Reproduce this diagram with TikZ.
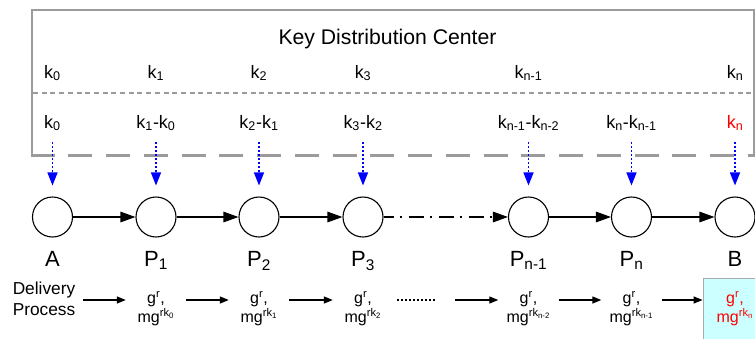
\documentclass[tikz,border=0pt]{standalone}
\usepackage{fontspec}
\setmainfont{Liberation Sans}
\usetikzlibrary{arrows.meta}

\definecolor{framegray}{RGB}{155,155,155}
\definecolor{edgegray}{RGB}{170,170,170}
\definecolor{keyblue}{RGB}{0,0,255}
\definecolor{keyred}{RGB}{255,0,0}
\definecolor{lastfill}{RGB}{204,255,255}

\begin{document}
\begin{tikzpicture}[x=1pt,y=-1pt,
  title/.style={font=\fontsize{21.2}{25}\selectfont, anchor=base, inner sep=0pt},
  keylbl/.style={font=\fontsize{18}{21}\selectfont, anchor=base, inner sep=0pt},
  peer/.style={circle, draw, line width=1.1pt, minimum size=40pt, inner sep=0pt},
  peerlbl/.style={font=\fontsize{22}{25}\selectfont, anchor=base, inner sep=0pt},
  cipher/.style={font=\fontsize{16}{19}\selectfont, align=center, inner sep=0pt, minimum width=60pt},
  hop/.style={line width=1.3pt, -{Triangle[length=15pt,width=10.5pt]}},
  feed/.style={keyblue, line width=1.4pt, dash pattern=on 2pt off 2pt,
    -{Triangle[length=13pt,width=10pt]}, shorten <=11pt, shorten >=11pt},
  pass/.style={line width=1.3pt, -{Triangle[length=9pt,width=7pt]}}
]
\useasboundingbox (0,0) rectangle (755,338);
\clip (0,0) rectangle (755,338);

% key distribution center frame
\draw[framegray, line width=2.8pt] (32,155) -- (32,10) -- (757,10);
\draw[framegray, line width=1.5pt] (754,10) -- (754,155);
\draw[framegray, line width=2pt, dash pattern=on 5pt off 3.7pt] (33,92.5) -- (755,92.5);
\draw[framegray, line width=3pt, dash pattern=on 24pt off 13.75pt] (30.6,155) -- (756,155);

\node[title] (kdc) at (387.5,44) {Key Distribution Center};

% keys held by the center
\node[keylbl] (t0) at (52.5,78) {k\textsubscript{0}};
\node[keylbl] (t1) at (156,78) {k\textsubscript{1}};
\node[keylbl] (t2) at (259,78) {k\textsubscript{2}};
\node[keylbl] (t3) at (363,78) {k\textsubscript{3}};
\node[keylbl] (t4) at (528.5,78) {k\textsubscript{n-1}};
\node[keylbl] (t6) at (735,78) {k\textsubscript{n}};

% re-encryption keys handed out
\node[keylbl] (d0) at (52.5,128) {k\textsubscript{0}};
\node[keylbl] (d1) at (156,128) {k\textsubscript{1}-k\textsubscript{0}};
\node[keylbl] (d2) at (259,128) {k\textsubscript{2}-k\textsubscript{1}};
\node[keylbl] (d3) at (363,128) {k\textsubscript{3}-k\textsubscript{2}};
\node[keylbl] (d4) at (528.5,128) {k\textsubscript{n-1}-k\textsubscript{n-2}};
\node[keylbl] (d5) at (631.5,128) {k\textsubscript{n}-k\textsubscript{n-1}};
\node[keylbl, text=keyred] (d6) at (735,128) {k\textsubscript{n}};

% chain of parties
\node[peer] (nA) at (52.5,217) {};
\node[peer] (n1) at (156,217) {};
\node[peer] (n2) at (259,217) {};
\node[peer] (n3) at (363,217) {};
\node[peer] (n4) at (528.5,217) {};
\node[peer] (n5) at (631.5,217) {};
\node[peer] (nB) at (735,217) {};

\node[peerlbl] (lA) at (52.5,266.5) {A};
\node[peerlbl] (l1) at (156,266.5) {P\textsubscript{1}};
\node[peerlbl] (l2) at (259,266.5) {P\textsubscript{2}};
\node[peerlbl] (l3) at (363,266.5) {P\textsubscript{3}};
\node[peerlbl] (l4) at (528.5,266.5) {P\textsubscript{n-1}};
\node[peerlbl] (l5) at (631.5,266.5) {P\textsubscript{n}};
\node[peerlbl] (lB) at (735,266.5) {B};

\draw[feed] (d0) -- (nA);
\draw[feed] (d1) -- (n1);
\draw[feed] (d2) -- (n2);
\draw[feed] (d3) -- (n3);
\draw[feed] (d4) -- (n4);
\draw[feed] (d5) -- (n5);
\draw[feed] (d6) -- (nB);

\draw[hop] (nA) -- (n1);
\draw[hop] (n1) -- (n2);
\draw[hop] (n2) -- (n3);
\draw[hop, dash pattern=on 15pt off 6pt on 2.5pt off 6.5pt, dash phase=5pt] (n3) -- (n4);
\draw[hop] (n4) -- (n5);
\draw[hop] (n5) -- (nB);

% delivery of the ciphertext
\node[font=\fontsize{17.3}{21}\selectfont, align=center, inner sep=0pt] (dp) at (44,298.5) {Delivery\\Process};
\node[cipher] (b1) at (156,309) {g\textsuperscript{r},\\mg\textsuperscript{rk\textsubscript{0}}};
\node[cipher] (b2) at (259,309) {g\textsuperscript{r},\\mg\textsuperscript{rk\textsubscript{1}}};
\node[cipher] (b3) at (363,309) {g\textsuperscript{r},\\mg\textsuperscript{rk\textsubscript{2}}};
\node[cipher] (b4) at (528.5,309) {g\textsuperscript{r},\\mg\textsuperscript{rk\textsubscript{n-2}}};
\node[cipher] (b5) at (631.5,309) {g\textsuperscript{r},\\mg\textsuperscript{rk\textsubscript{n-1}}};
\node[cipher, draw=edgegray, line width=0.8pt, fill=lastfill, text=keyred,
  minimum width=64pt, minimum height=62pt] (bB) at (735,309) {g\textsuperscript{r},\\mg\textsuperscript{rk\textsubscript{n}}};

\coordinate (dotL) at (435,300);
\coordinate (dotR) at (455,300);

\draw[pass, shorten <=8pt] ([yshift=-1.5pt]dp.east) -- ([yshift=9pt]b1.west);
\draw[pass] ([yshift=9pt]b1.east) -- ([yshift=9pt]b2.west);
\draw[pass] ([yshift=9pt]b2.east) -- ([yshift=9pt]b3.west);
\draw[line width=1.2pt, dash pattern=on 2pt off 2pt, shorten <=4pt] ([yshift=9pt]b3.east) -- (dotL);
\draw[pass] (dotR) -- ([yshift=9pt]b4.west);
\draw[pass] ([yshift=9pt]b4.east) -- ([yshift=9pt]b5.west);
\draw[pass] ([yshift=9pt]b5.east) -- ([yshift=9pt]bB.west);
\end{tikzpicture}
\end{document}
